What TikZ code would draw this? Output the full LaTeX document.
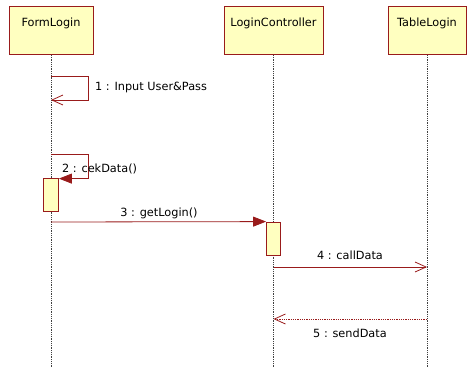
\documentclass[tikz,border=0pt]{standalone}
\usepackage{fontspec}
\setmainfont{DejaVu Sans}
\usetikzlibrary{arrows.meta,positioning}
\definecolor{umlred}{RGB}{153,27,27}
\definecolor{umlyel}{RGB}{255,255,192}
\tikzset{
    objbox/.style={draw=umlred,fill=umlyel,thick,minimum width=84pt,inner ysep=11.5pt,text height=8pt,text depth=17pt,align=center},
    actbox/.style={draw=umlred,fill=umlyel,thick,minimum width=15pt,minimum height=33pt,inner sep=0pt},
    lifeline/.style={densely dotted,black!75,line width=.8pt},
    msgopen/.style={draw=umlred,line width=.8pt,-{Straight Barb[length=11pt,width=10pt]}},
    msgfill/.style={draw=umlred,line width=.8pt,-{Triangle[length=13pt,width=10pt]},umlred},
    msgret/.style={msgopen,densely dotted},
    msglbl/.style={inner sep=0pt}
}

\begin{document}
\begin{tikzpicture}[x=1pt,y=-1pt,font=\fontsize{11.3}{13}\selectfont]
        \useasboundingbox (0,0) rectangle (467,367);

        % objects
        \node[objbox] (frm) at (51,30.5) {FormLogin};
        \node[objbox,minimum width=99pt] (ctl) at (273.5,30.5) {LoginController};
        \node[objbox,minimum width=78pt] (tbl) at (427,30.5) {TableLogin};

        % lifeline ends
        \coordinate (frmend) at (51,367);
        \coordinate (ctlend) at (273.5,367);
        \coordinate (tblend) at (427,367);

        \draw[lifeline] (frm) -- (frmend);
        \draw[lifeline] (ctl) -- (ctlend);
        \draw[lifeline] (tbl) -- (tblend);

        % activations
        \node[actbox] (act1) at (51,194.5) {};
        \node[actbox,minimum width=14pt] (act2) at (273.5,238.5) {};

        % message points
        \coordinate (m1a) at (51,76);
        \coordinate (m1b) at (51,100);
        \coordinate (m2a) at (51,154);
        \coordinate (m3a) at (51,222);
        \coordinate (m4a) at (273.5,267);
        \coordinate (m4b) at (427,267);
        \coordinate (m5a) at (427,319);
        \coordinate (m5b) at (273.5,319);

        \begin{scope}
            \draw[msgopen] (m1a) -- ++(37,0) |- (m1b);
            \draw[msgfill] (m2a) -- ++(37,0) |- ([yshift=-1pt]act1.north east);
            \draw[msgfill] (m3a) -- (act2.north west);
            \draw[msgopen] (m4a) -- (m4b);
            \draw[msgret] (m5a) -- (m5b);
        \end{scope}

        % labels
        \node[msglbl,anchor=base west] (l1) at (95,90) {1 : Input User\&Pass};
        \node[msglbl,anchor=base west] (l2) at (62,172) {2 : cekData()};
        \node[msglbl,anchor=base] (l3) at (159,216) {3 : getLogin()};
        \node[msglbl,anchor=base] (l4) at (350,259) {4 : callData};
        \node[msglbl,anchor=base] (l5) at (350,337) {5 : sendData};
    \end{tikzpicture}
\end{document}
